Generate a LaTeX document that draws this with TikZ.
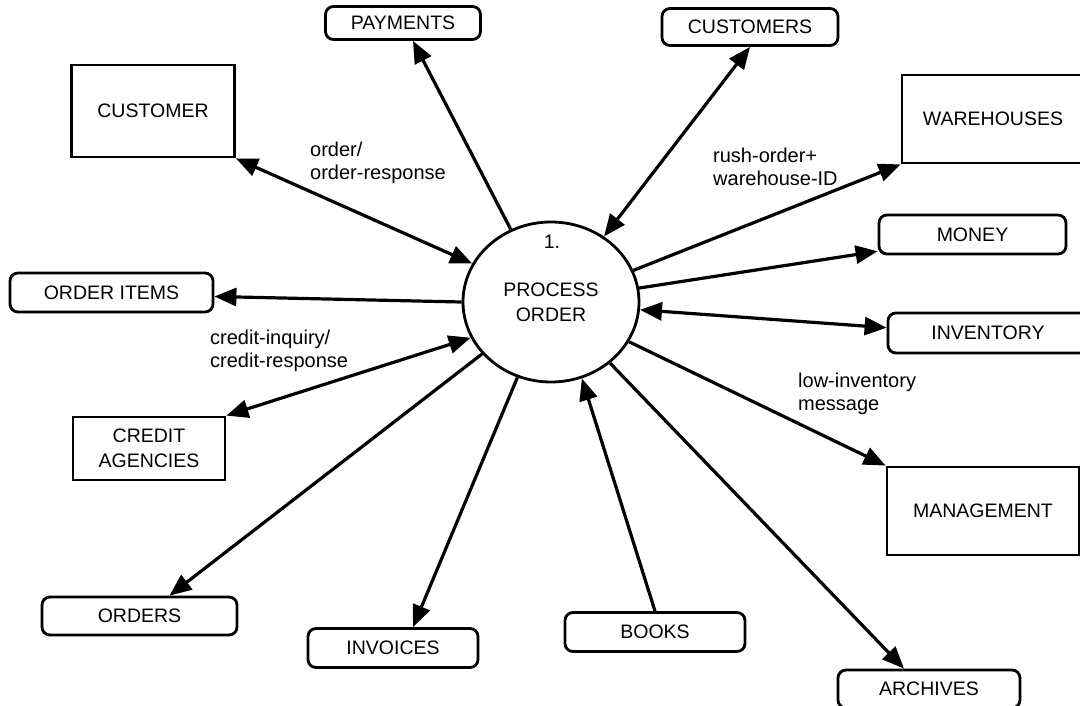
\documentclass[tikz,border=0pt]{standalone}
\usepackage{fontspec}
\setmainfont{Liberation Sans}
\usetikzlibrary{arrows.meta,shapes.geometric}

\begin{document}
\begin{tikzpicture}[x=1pt,y=-1pt,
  every node/.style={font=\fontsize{19.5}{25}\selectfont,align=center,inner sep=0pt},
  ent/.style={draw,line width=2.8pt},
  store/.style={draw,line width=2.8pt,rounded corners=8pt},
  flow/.style={line width=3.2pt,-{Triangle[length=22pt,width=18pt]}},
  flowx/.style={line width=3.2pt,{Triangle[length=22pt,width=18pt]}-{Triangle[length=22pt,width=18pt]}},
  note/.style={align=left,anchor=west,font=\fontsize{20}{23}\selectfont}]
  \clip (0,0) rectangle (1080,706);
  % process
  \node[ellipse,draw,line width=2.8pt,minimum width=176pt,minimum height=160pt] (po) at (551,302) {PROCESS\\ORDER};
  \node (num) at (552,242) {1.};
  % left side
  \node[ent,minimum width=163pt,minimum height=92pt] (cust) at (153,111) {CUSTOMER};
  \node[store,minimum width=203pt,minimum height=39pt] (oitems) at (111.5,292.5) {ORDER ITEMS};
  \node[ent,minimum width=152pt,minimum height=63pt] (cred) at (149,448.5) {CREDIT\\AGENCIES};
  \node[store,minimum width=195pt,minimum height=38pt] (orders) at (139.5,616) {ORDERS};
  % top
  \node[store,minimum width=155pt,minimum height=33pt] (pay) at (403,23) {PAYMENTS};
  \node[store,minimum width=176pt,minimum height=37pt] (custs) at (750,27) {CUSTOMERS};
  % right side
  \node[ent,minimum width=182pt,minimum height=88pt] (wh) at (993,119) {WAREHOUSES};
  \node[store,minimum width=187pt,minimum height=39pt] (money) at (972.5,234.5) {MONEY};
  \node[store,minimum width=200pt,minimum height=40pt] (inv) at (988,333) {INVENTORY};
  \node[ent,minimum width=192pt,minimum height=88pt] (mgmt) at (983,511) {MANAGEMENT};
  % bottom
  \node[store,minimum width=170pt,minimum height=39pt] (invoices) at (393,648) {INVOICES};
  \node[store,minimum width=180pt,minimum height=39pt] (books) at (655,632) {BOOKS};
  \node[store,minimum width=182pt,minimum height=38pt] (arch) at (929,689) {ARCHIVES};
  % flows
  \draw[flowx] (cust.south east) -- (po.154);
  \draw[flow] (po.119) -- ([xshift=10pt]pay.south);
  \draw[flowx] (po.51) -- (custs.south);
  \draw[flow] (po.21) -- (wh.south west);
  \draw[flow] (po.9) -- (money.190);
  \draw[flowx] (po.-5) -- (inv.177);
  \draw[flow] (po.-27) -- (mgmt.north west);
  \draw[flow] (po.-46) -- ([xshift=-25pt]arch.north);
  \draw[flow] (books.north) -- (po.-68);
  \draw[flow] (po.-114) -- ([xshift=20pt]invoices.north);
  \draw[flow] (po.217.5) -- ([xshift=30pt]orders.north);
  \draw[flowx] (cred.north east) -- (po.204.5);
  \draw[flow] (po.180) -- ([yshift=-4pt]oitems.east);
  % flow labels
  \node[note] (l1) at (310,163) {order/\\order-response};
  \node[note] (l2) at (713,167) {rush-order+\\warehouse-ID};
  \node[note] (l3) at (210,351) {credit-inquiry/\\credit-response};
  \node[note] (l4) at (798,394) {low-inventory\\message};
\end{tikzpicture}
\end{document}
